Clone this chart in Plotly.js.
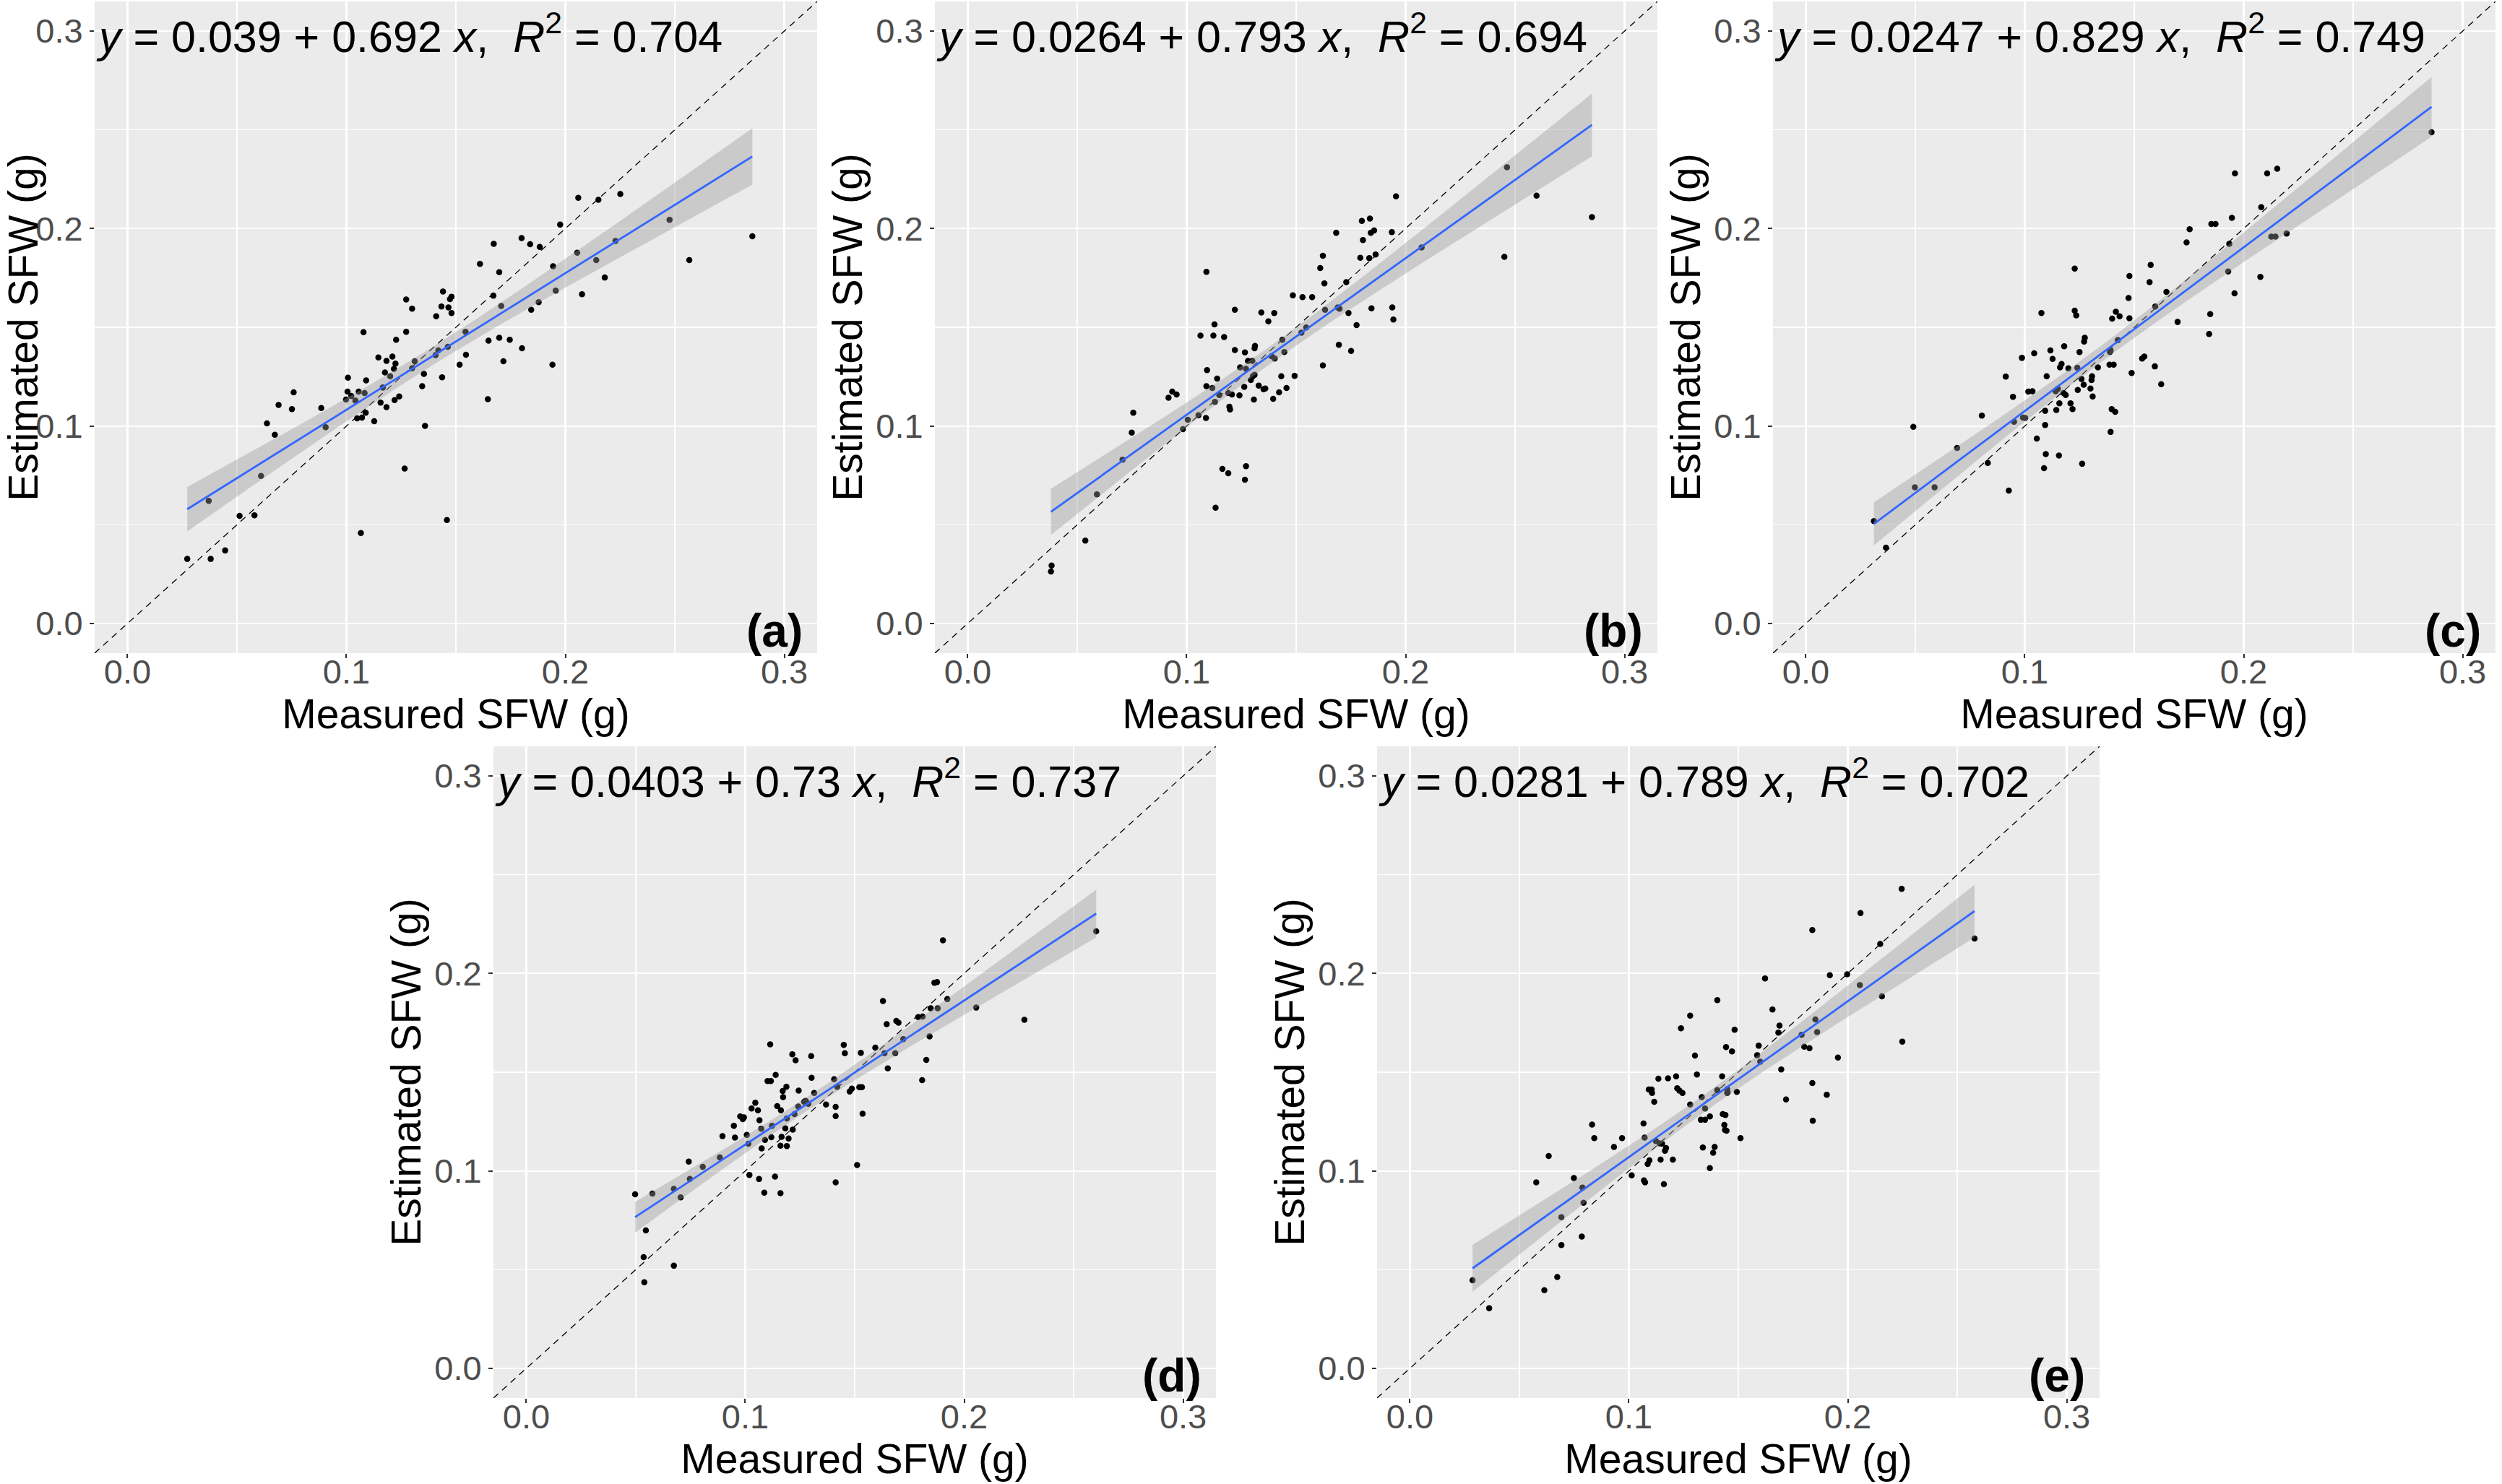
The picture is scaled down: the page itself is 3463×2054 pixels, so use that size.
<!DOCTYPE html>
<html>
<head>
<meta charset="utf-8">
<script src="https://cdn.plot.ly/plotly-3.0.1.min.js"></script>
<style>
  html, body { margin: 0; padding: 0; background: #ffffff; }
  #chart { width: 3463px; height: 2054px; }
</style>
</head>
<body>
<div id="chart"></div>
<script>
// ---------------- DATA ----------------
const panelLabels = ['(a)', '(b)', '(c)', '(d)', '(e)'];
const intercepts = [0.039, 0.0264, 0.0247, 0.0403, 0.0281];
const slopes = [0.692, 0.793, 0.829, 0.73, 0.789];
const rSquared = [0.704, 0.694, 0.749, 0.737, 0.702];

const tickVals = [0, 0.1, 0.2, 0.3];
const tickText = ['0.0', '0.1', '0.2', '0.3'];
const axisRange = [-0.015, 0.315];

const xTitle = 'Measured SFW (g)';
const yTitle = 'Estimated SFW (g)';

const measuredA = [0.0273,0.0371,0.0380,0.0446,0.0512,0.058,0.061,0.0637,0.0673,0.069,0.0751,0.0759,0.0885,0.0905,0.0998,0.1007,0.1005,0.1022,0.1041,0.1049,0.1056,0.1071,0.1078,0.1083,0.1088,0.109,0.1066,0.1127,0.1146,0.1156,0.1166,0.1176,0.1183,0.1183,0.12,0.121,0.1217,0.122,0.1224,0.1227,0.1241,0.1266,0.1273,0.1273,0.13,0.13,0.1312,0.1346,0.1354,0.1359,0.141,0.1407,0.142,0.1434,0.1437,0.1441,0.1459,0.1463,0.1466,0.1473,0.148,0.148,0.1517,0.1544,0.1546,0.161,0.1649,0.1646,0.1673,0.1671,0.1698,0.1698,0.1707,0.1717,0.1746,0.18,0.1802,0.1839,0.1844,0.1878,0.1883,0.1941,0.1944,0.1956,0.1976,0.2054,0.2059,0.2076,0.2141,0.2151,0.218,0.2229,0.2251,0.2476,0.2566,0.2854];
const estimatedA = [0.0327,0.0621,0.0327,0.037,0.0545,0.0548,0.0747,0.1013,0.0956,0.1107,0.1086,0.1171,0.1091,0.0994,0.1134,0.1245,0.1174,0.1152,0.1129,0.1039,0.1174,0.1043,0.1475,0.1167,0.1067,0.1231,0.0458,0.1024,0.1347,0.1119,0.1195,0.1271,0.133,0.1096,0.1252,0.1352,0.129,0.1131,0.1316,0.1437,0.115,0.0785,0.1641,0.1477,0.1594,0.1292,0.1328,0.1202,0.1264,0.1001,0.1556,0.1359,0.1383,0.1605,0.1247,0.1681,0.0524,0.1401,0.1601,0.1643,0.1655,0.1572,0.1311,0.1477,0.1361,0.1821,0.1432,0.1136,0.1923,0.166,0.1779,0.1447,0.1608,0.1328,0.1437,0.1952,0.1394,0.1921,0.1589,0.1627,0.1907,0.1311,0.1809,0.1686,0.202,0.1878,0.2156,0.1667,0.184,0.2146,0.1752,0.1937,0.2175,0.2044,0.184,0.1961];

const measuredB = [0.0383,0.038,0.0537,0.059,0.0707,0.0749,0.0756,0.0917,0.0934,0.0954,0.0983,0.1005,0.1054,0.1063,0.1088,0.109,0.109,0.1093,0.1117,0.1122,0.1127,0.1129,0.1132,0.1139,0.1149,0.1163,0.1171,0.119,0.119,0.1195,0.1198,0.1207,0.122,0.122,0.1241,0.1244,0.1263,0.1266,0.1266,0.1271,0.1271,0.128,0.1293,0.13,0.1302,0.1307,0.131,0.131,0.1312,0.1329,0.1341,0.1351,0.1359,0.1373,0.1388,0.1395,0.14,0.1402,0.1422,0.1432,0.1437,0.1446,0.1456,0.1485,0.1493,0.1524,0.1529,0.1546,0.1573,0.161,0.1622,0.1622,0.1629,0.1632,0.1683,0.169,0.1695,0.1698,0.1729,0.1739,0.1751,0.1776,0.1793,0.18,0.1805,0.1834,0.1837,0.1841,0.1844,0.1856,0.1863,0.1937,0.1939,0.1944,0.1956,0.2073,0.2451,0.2463,0.2598,0.2851];
const estimatedB = [0.0294,0.0263,0.042,0.0654,0.083,0.0967,0.1067,0.1143,0.1174,0.116,0.0984,0.1032,0.1055,0.1458,0.1041,0.1781,0.1202,0.1283,0.1193,0.1458,0.1515,0.1122,0.0586,0.124,0.1157,0.0783,0.1451,0.0761,0.1167,0.1098,0.1084,0.116,0.1589,0.1385,0.1155,0.1297,0.1198,0.1373,0.0728,0.0797,0.129,0.133,0.1233,0.133,0.1252,0.1134,0.1394,0.1259,0.1406,0.1205,0.1575,0.1186,0.119,0.153,0.1354,0.1138,0.1572,0.1342,0.1171,0.1252,0.1437,0.1375,0.1193,0.1662,0.1254,0.1473,0.1653,0.1499,0.1653,0.18,0.1862,0.1307,0.1722,0.1589,0.1978,0.1601,0.1411,0.1594,0.1729,0.1572,0.138,0.1511,0.1852,0.2039,0.1942,0.185,0.2051,0.1978,0.1596,0.199,0.1869,0.1982,0.1601,0.1539,0.2163,0.1904,0.1857,0.231,0.2167,0.2058];

const measuredC = [0.0311,0.0366,0.0491,0.0498,0.0588,0.0691,0.0804,0.0831,0.0913,0.0927,0.0946,0.0951,0.0987,0.0992,0.1002,0.1016,0.1035,0.1043,0.1055,0.1076,0.1093,0.1093,0.1096,0.1088,0.11,0.1117,0.1127,0.1141,0.1144,0.1151,0.1156,0.1158,0.1161,0.1168,0.1177,0.118,0.1187,0.1199,0.1209,0.1218,0.1228,0.1228,0.1235,0.124,0.1242,0.125,0.1259,0.1262,0.1269,0.1271,0.1274,0.13,0.1305,0.1307,0.131,0.1334,0.1387,0.1389,0.1392,0.1392,0.1397,0.1399,0.1406,0.1413,0.1416,0.1425,0.1433,0.1474,0.1478,0.1478,0.1488,0.1536,0.1546,0.157,0.1575,0.1594,0.1596,0.1623,0.1647,0.1698,0.1739,0.1753,0.1842,0.1847,0.1852,0.1871,0.1929,0.1934,0.1946,0.1958,0.196,0.2076,0.208,0.2107,0.2126,0.2145,0.2153,0.2196,0.2858];
const estimatedC = [0.0519,0.0384,0.0996,0.069,0.069,0.0889,0.1053,0.0813,0.125,0.0673,0.1148,0.1022,0.1345,0.1043,0.1041,0.1174,0.1176,0.1368,0.0937,0.1572,0.1077,0.1005,0.0858,0.0787,0.1252,0.1383,0.134,0.1176,0.1081,0.1188,0.0851,0.1115,0.1297,0.1314,0.1167,0.1404,0.1157,0.1292,0.1115,0.1086,0.1797,0.1584,0.156,0.1295,0.1183,0.1375,0.1238,0.0809,0.1209,0.1428,0.1447,0.119,0.1233,0.1252,0.115,0.1297,0.1311,0.1375,0.1383,0.097,0.1086,0.1544,0.1311,0.1072,0.1579,0.1435,0.1556,0.1648,0.176,0.1546,0.1269,0.1342,0.1352,0.1729,0.1816,0.1302,0.1605,0.1212,0.1679,0.1527,0.193,0.1997,0.1466,0.1567,0.2023,0.2023,0.1783,0.1923,0.2054,0.1672,0.2279,0.1755,0.2108,0.2279,0.1959,0.1959,0.2303,0.1975,0.2488];

const measuredD = [0.0497,0.0536,0.0539,0.0546,0.0576,0.0674,0.0674,0.0705,0.0742,0.0747,0.0806,0.0884,0.0896,0.0948,0.0953,0.0977,0.0989,0.0994,0.1007,0.1014,0.1019,0.1029,0.1046,0.1058,0.1063,0.1065,0.1073,0.1075,0.1087,0.109,0.1102,0.1114,0.1117,0.1119,0.1122,0.1136,0.1139,0.1146,0.1161,0.1161,0.1163,0.1166,0.1171,0.1173,0.1183,0.1188,0.119,0.1198,0.119,0.1215,0.1217,0.1225,0.123,0.1242,0.1244,0.1269,0.1276,0.1288,0.1301,0.1303,0.1315,0.1369,0.1406,0.1413,0.1413,0.1413,0.142,0.145,0.1455,0.1477,0.1487,0.1511,0.1521,0.1528,0.1533,0.1536,0.1594,0.1629,0.1636,0.1646,0.1651,0.1685,0.169,0.17,0.1722,0.179,0.181,0.1808,0.1827,0.1842,0.1847,0.1864,0.1876,0.1879,0.1903,0.1923,0.2055,0.2275,0.2603];
const estimatedD = [0.0882,0.0563,0.0436,0.0699,0.0885,0.0909,0.052,0.0866,0.1047,0.0959,0.1021,0.1068,0.1176,0.1228,0.1169,0.1276,0.1262,0.1271,0.1183,0.1138,0.098,0.1316,0.1345,0.1307,0.0959,0.1257,0.1214,0.1114,0.089,0.1157,0.1455,0.1641,0.1455,0.1171,0.1228,0.0971,0.1486,0.1328,0.0887,0.1128,0.1307,0.1173,0.1405,0.1374,0.1216,0.1426,0.1126,0.1164,0.1266,0.1591,0.1209,0.1288,0.156,0.1326,0.1407,0.135,0.1355,0.134,0.1581,0.1472,0.1395,0.1336,0.1464,0.1324,0.1278,0.0942,0.1426,0.1638,0.1596,0.1402,0.1417,0.103,0.1424,0.1598,0.1424,0.129,0.1624,0.186,0.1596,0.1743,0.1519,0.1596,0.176,0.1751,0.1667,0.1779,0.1782,0.146,0.1562,0.1681,0.1824,0.1953,0.1956,0.1824,0.2168,0.187,0.1827,0.1765,0.2213];

const measuredE = [0.0286,0.0362,0.0577,0.0614,0.0634,0.0673,0.0692,0.0692,0.0749,0.0785,0.0788,0.0793,0.0832,0.0842,0.0932,0.0969,0.1013,0.1067,0.1069,0.1072,0.1074,0.1086,0.1091,0.1094,0.1104,0.1106,0.1116,0.1123,0.1135,0.114,0.1145,0.1152,0.116,0.1165,0.117,0.1179,0.1201,0.1216,0.1221,0.1231,0.1238,0.1245,0.128,0.128,0.1302,0.1311,0.1329,0.1333,0.1338,0.1348,0.1348,0.137,0.137,0.1385,0.1392,0.1404,0.1404,0.1426,0.1429,0.1436,0.1439,0.1441,0.1444,0.1446,0.1449,0.1449,0.1451,0.1471,0.1483,0.1493,0.151,0.1586,0.1593,0.16,0.1622,0.1656,0.1683,0.1688,0.1696,0.1718,0.1789,0.1801,0.1825,0.1838,0.1838,0.184,0.1852,0.186,0.1904,0.1918,0.1955,0.1997,0.2055,0.2058,0.2148,0.2156,0.2246,0.2249,0.2579];
const estimatedE = [0.0446,0.0305,0.0942,0.0396,0.1076,0.0463,0.0766,0.0625,0.0964,0.0668,0.0916,0.0839,0.1235,0.1166,0.1121,0.1166,0.0978,0.124,0.0952,0.1169,0.0942,0.1035,0.1412,0.1054,0.1412,0.1395,0.135,0.1152,0.1467,0.114,0.1057,0.1138,0.0933,0.1102,0.1116,0.1469,0.1057,0.1479,0.1419,0.1407,0.1722,0.1395,0.1336,0.1786,0.1584,0.1488,0.1259,0.1374,0.1119,0.1259,0.1316,0.1014,0.1276,0.1092,0.1121,0.1865,0.1409,0.1479,0.1288,0.1233,0.1207,0.1283,0.1627,0.1204,0.1395,0.1414,0.1398,0.1605,0.1715,0.14,0.1166,0.1586,0.1634,0.1553,0.1975,0.1817,0.17,0.1736,0.1514,0.1362,0.1689,0.1629,0.1622,0.222,0.1445,0.1254,0.1767,0.1703,0.1386,0.1991,0.1574,0.1996,0.1941,0.2306,0.2149,0.1884,0.2428,0.1655,0.2177];

const measuredSets = [measuredA, measuredB, measuredC, measuredD, measuredE];
const estimatedSets = [estimatedA, estimatedB, estimatedC, estimatedD, estimatedE];

// ---------------- LAYOUT GEOMETRY ----------------
const W = 3463, H = 2054;
// plot-area boxes in pixels: [left, right, top, bottom]
const boxes = [
  [131, 1131, 2, 904],
  [1294, 2294, 2, 904],
  [2454, 3454, 2, 904],
  [683, 1683, 1033, 1935],
  [1906, 2906, 1033, 1935]
];

const FONT = '"Liberation Sans", Arial, Helvetica, sans-serif';
const BLUE = '#3366FF';

// ---------------- HELPERS ----------------
function tCrit(df) { return 1.96 + 2.4 / df; }

function ciBand(xs, ys, a, b) {
  const n = xs.length;
  const xbar = xs.reduce((s, v) => s + v, 0) / n;
  let sxx = 0, sse = 0;
  for (let i = 0; i < n; i++) {
    sxx += (xs[i] - xbar) ** 2;
    sse += (ys[i] - (a + b * xs[i])) ** 2;
  }
  const s = Math.sqrt(sse / (n - 2));
  const t = tCrit(n - 2);
  const xmin = Math.min(...xs), xmax = Math.max(...xs);
  const gx = [], up = [], lo = [], fit = [];
  const steps = 80;
  for (let k = 0; k <= steps; k++) {
    const x = xmin + (xmax - xmin) * k / steps;
    const f = a + b * x;
    const se = s * Math.sqrt(1 / n + (x - xbar) ** 2 / sxx);
    gx.push(x); fit.push(f); up.push(f + t * se); lo.push(f - t * se);
  }
  return { gx, up, lo, fit };
}

const traces = [];
const layout = {
  width: W, height: H,
  margin: { l: 0, r: 0, t: 0, b: 0 },
  paper_bgcolor: '#ffffff',
  plot_bgcolor: '#EBEBEB',
  showlegend: false,
  font: { family: FONT, color: '#000000' },
  annotations: []
};

for (let p = 0; p < 5; p++) {
  const sfx = p === 0 ? '' : String(p + 1);
  const xa = 'x' + sfx, ya = 'y' + sfx;
  const [L, R, T, B] = boxes[p];
  const xs = measuredSets[p], ys = estimatedSets[p];
  const a = intercepts[p], b = slopes[p];
  const band = ciBand(xs, ys, a, b);

  // 1:1 line
  traces.push({
    type: 'scatter', mode: 'lines', xaxis: xa, yaxis: ya,
    x: axisRange, y: axisRange,
    line: { color: '#000000', width: 1.3, dash: '9px,7px' },
    hoverinfo: 'skip'
  });
  // points
  traces.push({
    type: 'scatter', mode: 'markers', xaxis: xa, yaxis: ya,
    x: xs, y: ys,
    marker: { color: '#000000', size: 8.5, line: { width: 0 } },
    cliponaxis: true
  });
  // confidence ribbon
  traces.push({
    type: 'scatter', mode: 'lines', xaxis: xa, yaxis: ya,
    x: band.gx.concat(band.gx.slice().reverse()),
    y: band.up.concat(band.lo.slice().reverse()),
    fill: 'toself', fillcolor: 'rgba(153,153,153,0.4)',
    line: { width: 0 }, hoverinfo: 'skip'
  });
  // fitted line
  traces.push({
    type: 'scatter', mode: 'lines', xaxis: xa, yaxis: ya,
    x: band.gx, y: band.fit,
    line: { color: BLUE, width: 2.8 }, hoverinfo: 'skip'
  });

  const common = {
    range: axisRange,
    tickvals: tickVals, ticktext: tickText,
    showgrid: true, gridcolor: '#FFFFFF', gridwidth: 2.2,
    zeroline: false, showline: false,
    ticks: 'outside', ticklen: 6, tickwidth: 2, tickcolor: '#333333',
    tickfont: { family: FONT, size: 47, color: '#4D4D4D' },
    minor: { dtick: 0.05, tick0: 0, showgrid: true, gridcolor: '#FFFFFF', gridwidth: 1.1, ticks: '' },
    fixedrange: true
  };
  layout['xaxis' + sfx] = Object.assign({}, common, {
    domain: [L / W, R / W], anchor: ya,
    ticklabelstandoff: -21,
    title: { text: xTitle, font: { family: FONT, size: 57, color: '#000000' }, standoff: 0 }
  });
  layout['yaxis' + sfx] = Object.assign({}, common, {
    domain: [1 - B / H, 1 - T / H], anchor: xa,
    title: { text: yTitle, font: { family: FONT, size: 57, color: '#000000' }, standoff: 0 }
  });

  // equation label
  layout.annotations.push({
    xref: xa, yref: ya, x: axisRange[0], y: 0.3,
    xanchor: 'left', yanchor: 'middle', showarrow: false, yshift: -3,
    text: '<i>y</i> = ' + a + ' + ' + b + ' <i>x</i>,  <i>R</i><sup>2</sup> = ' + rSquared[p],
    font: { family: FONT, size: 61, color: '#000000' }
  });
  // panel letter
  layout.annotations.push({
    xref: xa, yref: ya, x: 0.309, y: axisRange[0],
    xanchor: 'right', yanchor: 'bottom', showarrow: false, yshift: -7,
    text: '<b>' + panelLabels[p] + '</b>',
    font: { family: FONT, size: 64, color: '#000000' }
  });
}

Plotly.newPlot('chart', traces, layout, { staticPlot: true, displayModeBar: false });
</script>
</body>
</html>
